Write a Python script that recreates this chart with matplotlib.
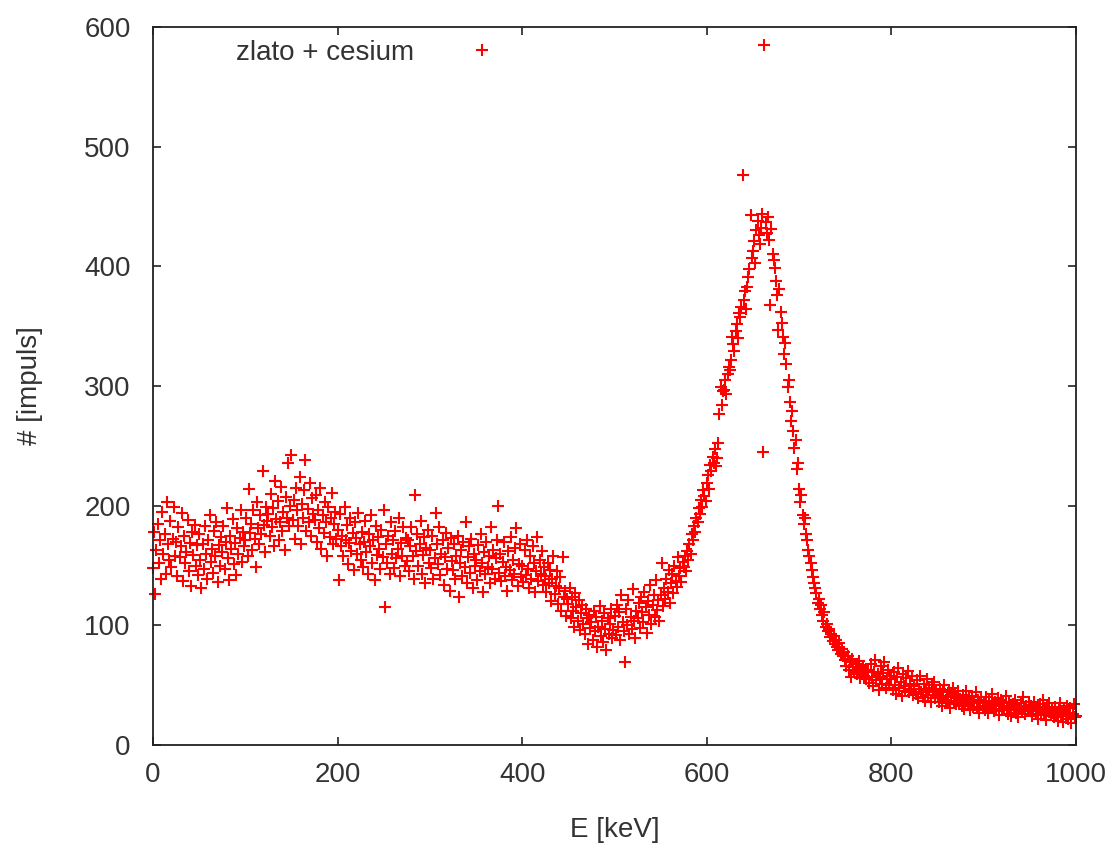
import numpy as np
import matplotlib
matplotlib.use("Agg")
import matplotlib.pyplot as plt

plt.rcParams['font.family'] = ['Liberation Sans', 'DejaVu Sans']

# spectrum: counts per channel, channels start at 0 keV with 1.25 keV width
e_start = 0.0
e_step = 1.25
counts = [
    148, 178, 126, 163, 185, 152, 171, 139, 195, 160, 176, 143, 203, 168, 155, 187, 149, 172, 199, 158,
    170, 141, 182, 157, 166, 194, 137, 175, 152, 161, 188, 145, 169, 133, 178, 159, 184, 150, 167, 142,
    176, 155, 131, 168, 147, 183, 160, 139, 171, 192, 153, 164, 144, 179, 158, 186, 136, 167, 150, 174,
    161, 183, 147, 170, 198, 156, 138, 175, 164, 189, 151, 169, 142, 181, 160, 173, 196, 153, 178, 166,
    171, 190, 158, 214, 177, 185, 163, 196, 172, 149, 203, 181, 168, 192, 176, 229, 184, 161, 199, 187,
    193, 175, 210, 182, 198, 166, 221, 189, 204, 171, 186, 216, 179, 195, 163, 207, 190, 236, 183, 200,
    242, 188, 205, 172, 215, 196, 183, 224, 168, 201, 190, 213, 238, 179, 197, 186, 219, 175, 206, 193,
    188, 209, 170, 196, 181, 215, 164, 192, 177, 203, 186, 158, 199, 174, 190, 211, 168, 185, 195, 172,
    180, 138, 193, 166, 175, 158, 199, 171, 184, 151, 169, 190, 162, 177, 146, 186, 173, 160, 194, 168,
    155, 178, 149, 170, 187, 161, 143, 176, 166, 192, 152, 171, 138, 183, 159, 174, 164, 147, 180, 157,
    196, 115, 168, 152, 175, 143, 186, 160, 171, 148, 179, 156, 164, 190, 141, 169, 158, 182, 150, 173,
    154, 171, 145, 166, 182, 158, 139, 209, 162, 176, 150, 168, 187, 143, 159, 174, 135, 165, 180, 152,
    163, 148, 175, 139, 156, 194, 168, 151, 182, 142, 160, 171, 134, 157, 177, 147, 165, 129, 173, 154,
    146, 168, 139, 158, 175, 124, 152, 163, 141, 170, 149, 186, 135, 157, 166, 144, 172, 131, 160, 150,
    155, 138, 167, 145, 176, 152, 128, 161, 143, 170, 149, 158, 135, 182, 147, 163, 139, 156, 171, 200,
    144, 160, 137, 153, 170, 141, 149, 129, 162, 146, 174, 138, 155, 143, 165, 181, 133, 151, 168, 140,
    150, 136, 163, 142, 171, 147, 131, 158, 139, 166, 152, 128, 145, 174, 137, 155, 143, 162, 134, 149,
    141, 128, 152, 135, 146, 120, 139, 158, 126, 133, 145, 118, 131, 140, 112, 157, 124, 129, 108, 122,
    118, 131, 106, 124, 112, 99, 127, 115, 104, 121, 96, 110, 117, 101, 93, 114, 106, 84, 109, 98,
    103, 88, 112, 95, 107, 82, 99, 116, 91, 104, 86, 110, 97, 79, 106, 93, 101, 114, 89, 96,
    108, 92, 117, 99, 111, 88, 125, 103, 95, 69, 114, 100, 121, 93, 107, 97, 130, 104, 89, 112,
    106, 119, 98, 124, 111, 103, 128, 115, 94, 120, 109, 134, 101, 117, 125, 107, 138, 113, 121, 104,
    125, 152, 116, 131, 122, 139, 128, 146, 119, 135, 143, 127, 150, 137, 132, 157, 141, 148, 136, 153,
    149, 158, 145, 162, 155, 168, 160, 176, 171, 183, 178, 190, 186, 198, 193, 205, 199, 213, 208, 204,
    219, 226, 214, 234, 229, 241, 236, 247, 233, 240, 252, 277, 299, 284, 296, 297, 305, 293, 310, 316,
    313, 322, 341, 335, 329, 346, 352, 340, 361, 358, 366, 476, 372, 379, 364, 383, 391, 398, 443, 407,
    413, 421, 403, 430, 438, 426, 419, 432, 444, 245, 585, 437, 428, 441, 422, 368, 431, 410, 405, 399,
    388, 376, 347, 381, 362, 353, 341, 327, 336, 318, 299, 305, 287, 271, 279, 262, 248, 255, 231, 236,
    214, 203, 209, 192, 185, 190, 176, 171, 163, 158, 152, 146, 140, 135, 131, 127, 119, 122, 114, 117,
    109, 104, 111, 99, 101, 95, 97, 90, 93, 87, 91, 84, 88, 82, 79, 85, 76, 80, 74, 78,
    71, 66, 74, 63, 69, 57, 72, 65, 61, 68, 59, 64, 70, 56, 62, 66, 58, 63, 55, 61,
    63, 52, 68, 57, 49, 61, 71, 54, 59, 46, 57, 66, 51, 60, 69, 48, 55, 63, 50, 58,
    55, 46, 61, 50, 43, 57, 64, 48, 53, 41, 59, 49, 45, 56, 62, 44, 51, 47, 58, 42,
    49, 43, 54, 39, 47, 58, 44, 40, 51, 37, 46, 55, 42, 48, 36, 50, 44, 53, 39, 45,
    42, 36, 47, 39, 33, 44, 50, 38, 41, 35, 46, 31, 40, 48, 37, 43, 34, 39, 45, 36,
    38, 33, 42, 30, 36, 45, 34, 39, 29, 37, 41, 32, 35, 44, 31, 38, 27, 36, 40, 33,
    35, 29, 40, 32, 27, 37, 31, 43, 34, 28, 36, 30, 39, 25, 33, 38, 29, 35, 31, 41,
    30, 26, 36, 32, 24, 34, 29, 38, 27, 33, 23, 31, 35, 28, 40, 30, 26, 33, 29, 36,
    28, 33, 24, 30, 36, 26, 31, 22, 29, 34, 27, 38, 25, 30, 21, 32, 28, 35, 26, 31,
    27, 23, 32, 26, 20, 29, 35, 24, 28, 19, 30, 25, 33, 22, 27, 31, 18, 26, 34, 23,
    24,
]
series_label = "zlato + cesium"
x_ticks = [0, 200, 400, 600, 800, 1000]
y_ticks = [0, 100, 200, 300, 400, 500, 600]

energy = e_start + e_step * np.arange(len(counts))

fig = plt.figure(figsize=(11.10, 8.47), dpi=100)
ax = fig.add_axes([153/1110, 1 - 745/847, (1076-153)/1110, (745-27)/847])

ax.plot(energy, counts, linestyle='none', marker='+', markersize=9.0,
        markeredgewidth=1.5, color='#ff0000', label=series_label, clip_on=False)

text_col = '#333333'
fs = 20
ax.set_xlim(0, 1000)
ax.set_ylim(0, 600)
ax.set_xticks(x_ticks)
ax.set_yticks(y_ticks)
ax.tick_params(direction='in', length=6, width=1.2, top=True, right=True,
               labelsize=fs, colors='#222222', labelcolor=text_col)
ax.tick_params(axis='y', pad=16)
ax.tick_params(axis='x', pad=12)
for s in ax.spines.values():
    s.set_linewidth(1.3)
    s.set_color('#222222')

ax.set_xlabel('E [keV]', fontsize=fs, color=text_col, labelpad=21)
ax.set_ylabel('# [impuls]', fontsize=fs, color=text_col, labelpad=30)

leg = ax.legend(loc='upper left', bbox_to_anchor=(0.078, 0.998), frameon=False,
                markerfirst=False, fontsize=fs, handlelength=2.0,
                handletextpad=1.45, borderaxespad=0.0)
for t in leg.get_texts():
    t.set_color(text_col)

fig.savefig('out.png', dpi=100)
